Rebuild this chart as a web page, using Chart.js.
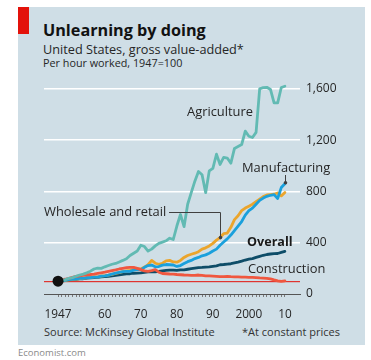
<!DOCTYPE html>
<html>
<head>
<meta charset="utf-8">
<script src="https://cdn.jsdelivr.net/npm/chart.js@4.4.1/dist/chart.umd.min.js"></script>
<style>
  html, body { margin: 0; padding: 0; background: #ffffff; }
  body { width: 371px; height: 360px; position: relative; overflow: hidden; font-family: "Open Sans", Roboto, sans-serif; }
  #panel { position: absolute; left: 18px; top: 7px; width: 347px; height: 338px; background: #cfdee6; }
  #flag { position: absolute; left: 18px; top: 7px; width: 11px; height: 27px; background: #e3120b; }
  .t { position: absolute; white-space: nowrap; line-height: 1; }
  #title { left: 43px; top: 22px; font-size: 16.2px; font-weight: 700; color: #121212; }
  #sub { left: 43px; top: 43px; font-size: 12.7px; color: #262626; }
  #unit { left: 43px; top: 58px; font-size: 10.8px; color: #262626; }
  #source { left: 44px; top: 326px; font-size: 11px; color: #333333; }
  #note { left: 242px; top: 326px; font-size: 11px; color: #333333; }
  #brand { left: 18px; top: 348px; font-size: 9.5px; color: #8a8a8a; }
  #wrap { position: absolute; left: 0; top: 0; width: 371px; height: 360px; }
</style>
</head>
<body>
<div id="panel"></div>
<div id="flag"></div>
<div class="t" id="title">Unlearning by doing</div>
<div class="t" id="sub">United States, gross value-added*</div>
<div class="t" id="unit">Per hour worked, 1947=100</div>
<div class="t" id="source">Source: McKinsey Global Institute</div>
<div class="t" id="note">*At constant prices</div>
<div class="t" id="brand">Economist.com</div>
<div id="wrap"><canvas id="c" width="371" height="360"></canvas></div>
<script>
// Years covered by the index
const years = [
  1947, 1948, 1949, 1950, 1951, 1952, 1953, 1954, 1955, 1956,
  1957, 1958, 1959, 1960, 1961, 1962, 1963, 1964, 1965, 1966,
  1967, 1968, 1969, 1970, 1971, 1972, 1973, 1974, 1975, 1976,
  1977, 1978, 1979, 1980, 1981, 1982, 1983, 1984, 1985, 1986,
  1987, 1988, 1989, 1990, 1991, 1992, 1993, 1994, 1995, 1996,
  1997, 1998, 1999, 2000, 2001, 2002, 2003, 2004, 2005, 2006,
  2007, 2008, 2009, 2010
];

// Gross value-added per hour worked, 1947=100
const agriculture = [
  100, 108, 112, 122, 128, 138, 148, 155, 165, 178,
  195, 202, 200, 212, 222, 232, 238, 250, 262, 275,
  300, 318, 335, 380, 370, 335, 350, 375, 395, 405,
  415, 435, 425, 530, 620, 525, 700, 790, 880, 955,
  930, 790, 960, 980, 1090, 1010, 1065, 1060, 1020, 1135,
  1150, 1165, 1270, 1230, 1220, 1260, 1600, 1610, 1612, 1595,
  1490, 1490, 1610, 1620
];
const manufacturing = [
  100, 104, 106, 112, 115, 117, 122, 122, 128, 128,
  132, 132, 140, 142, 147, 155, 162, 168, 174, 176,
  176, 186, 192, 190, 208, 222, 226, 212, 214, 225,
  230, 228, 226, 215, 222, 238, 252, 262, 276, 285,
  298, 305, 318, 335, 350, 380, 405, 430, 460, 495,
  530, 565, 615, 650, 670, 700, 730, 748, 762, 770,
  775, 745, 830, 860
];
const wholesaleRetail = [
  100, 103, 105, 110, 112, 116, 120, 122, 128, 130,
  133, 134, 140, 143, 147, 153, 160, 167, 174, 180,
  184, 192, 196, 195, 210, 228, 262, 240, 232, 240,
  258, 262, 250, 248, 262, 285, 300, 310, 318, 330,
  350, 360, 375, 395, 420, 440, 470, 475, 520, 580,
  610, 650, 670, 685, 700, 720, 740, 760, 772, 775,
  778, 788, 765, 792
];
const overall = [
  100, 103, 105, 110, 112, 115, 118, 119, 124, 125,
  127, 129, 133, 135, 138, 142, 146, 150, 154, 157,
  158, 162, 163, 164, 168, 172, 175, 172, 176, 181,
  184, 186, 186, 185, 188, 188, 193, 197, 201, 205,
  207, 210, 212, 216, 220, 228, 230, 233, 236, 242,
  248, 256, 265, 272, 276, 285, 294, 302, 308, 312,
  315, 316, 324, 332
];
const construction = [
  100, 110, 115, 122, 130, 137, 142, 146, 150, 152,
  155, 160, 165, 170, 176, 182, 188, 195, 200, 205,
  207, 208, 200, 190, 180, 176, 182, 190, 170, 160,
  158, 156, 155, 152, 150, 148, 147, 146, 146, 148,
  145, 142, 141, 140, 138, 136, 136, 137, 135, 134,
  133, 132, 131, 130, 129, 127, 125, 124, 122, 118,
  110, 103, 98, 102
];

// Axis ticks and labels
const baseIndex = 100;
const xTickYears = [1947, 1960, 1970, 1980, 1990, 2000, 2010];
const xTickLabels = ['1947', '60', '70', '80', '90', '2000', '10'];
const yTickValues = [0, 400, 800, 1200, 1600];
const yTickLabels = ['0', '400', '800', '1,200', '1,600'];

const FONT = '"Open Sans", Roboto, sans-serif';
const COLORS = {
  agriculture: '#62bab3',
  manufacturing: '#1aa0dc',
  wholesale: '#eba52c',
  overall: '#0e4d68',
  construction: '#f0573f',
  ref: '#e3120b',
  text: '#262626',
  leader: '#404040'
};

const toPoints = (vals) => years.map((y, i) => ({ x: y, y: vals[i] }));

const lineDs = (label, vals, color) => ({
  label,
  data: toPoints(vals),
  borderColor: color,
  backgroundColor: color,
  borderWidth: 2.8,
  pointRadius: 0,
  tension: 0,
  borderJoinStyle: 'round',
  borderCapStyle: 'round'
});

// Reference line at the base index, drawn under the series
const baseLine = {
  id: 'baseLine',
  beforeDatasetsDraw(chart) {
    const { ctx, chartArea, scales } = chart;
    const y = scales.y.getPixelForValue(baseIndex);
    ctx.save();
    ctx.strokeStyle = COLORS.ref;
    ctx.lineWidth = 1;
    ctx.beginPath();
    ctx.moveTo(chartArea.left, y + 0.5);
    ctx.lineTo(chartArea.right, y + 0.5);
    ctx.stroke();
    ctx.restore();
  }
};

// Series names and their leader lines
const seriesLabels = {
  id: 'seriesLabels',
  afterDatasetsDraw(chart) {
    const { ctx, scales } = chart;
    ctx.save();
    ctx.fillStyle = COLORS.text;
    ctx.textBaseline = 'middle';
    ctx.textAlign = 'left';
    ctx.font = '12.9px ' + FONT;
    ctx.fillText('Agriculture', 187, 112);
    ctx.fillText('Manufacturing', 242, 168);
    ctx.fillText('Wholesale and retail', 44, 212);
    ctx.fillText('Construction', 248, 269);
    ctx.font = 'bold 12.6px ' + FONT;
    ctx.fillStyle = '#1a1a1a';
    ctx.fillText('Overall', 247, 242);

    ctx.strokeStyle = COLORS.leader;
    ctx.fillStyle = COLORS.leader;
    ctx.lineWidth = 1;

    // Wholesale and retail leader to the 1992 point
    const wi = years.indexOf(1992);
    const wx = Math.round(scales.x.getPixelForValue(years[wi])) + 0.5;
    const wy = scales.y.getPixelForValue(wholesaleRetail[wi]);
    ctx.beginPath();
    ctx.moveTo(169, 212.5);
    ctx.lineTo(wx, 212.5);
    ctx.lineTo(wx, wy);
    ctx.stroke();
    ctx.beginPath();
    ctx.arc(wx, wy, 1.8, 0, Math.PI * 2);
    ctx.fill();

    // Manufacturing leader to the last point
    const mi = years.length - 1;
    const mx = Math.round(scales.x.getPixelForValue(years[mi])) + 0.5;
    const my = scales.y.getPixelForValue(manufacturing[mi]);
    ctx.beginPath();
    ctx.moveTo(mx, 175);
    ctx.lineTo(mx, my - 1);
    ctx.stroke();
    ctx.beginPath();
    ctx.arc(mx, my - 1, 1.8, 0, Math.PI * 2);
    ctx.fill();
    ctx.restore();
  }
};

new Chart(document.getElementById('c'), {
  type: 'line',
  data: {
    datasets: [
      {
        label: 'start',
        data: [{ x: years[0], y: baseIndex }],
        pointRadius: 5.5,
        pointBackgroundColor: '#111111',
        pointBorderWidth: 0,
        showLine: false
      },
      lineDs('Agriculture', agriculture, COLORS.agriculture),
      lineDs('Construction', construction, COLORS.construction),
      lineDs('Manufacturing', manufacturing, COLORS.manufacturing),
      lineDs('Wholesale and retail', wholesaleRetail, COLORS.wholesale),
      lineDs('Overall', overall, COLORS.overall)
    ]
  },
  options: {
    responsive: false,
    animation: false,
    events: [],
    layout: { padding: { top: 76, left: 44, right: 0, bottom: 0 } },
    plugins: {
      legend: { display: false },
      tooltip: { enabled: false },
      title: { display: false }
    },
    scales: {
      x: {
        type: 'linear',
        min: 1943.1,
        max: 2014.2,
        afterBuildTicks(scale) {
          scale.ticks = years.map(v => ({ value: v }));
        },
        afterFit(scale) { scale.height = 66; },
        grid: {
          display: true,
          drawOnChartArea: false,
          drawTicks: true,
          tickLength: 3,
          color: '#7a7a7a',
          lineWidth: 1
        },
        border: { display: true, color: '#555555', width: 1 },
        ticks: {
          autoSkip: false,
          maxRotation: 0,
          padding: 11,
          color: '#262626',
          font: { size: 11.8, family: FONT },
          callback(value) {
            const k = xTickYears.indexOf(value);
            return k >= 0 ? xTickLabels[k] : '';
          }
        }
      },
      y: {
        position: 'right',
        min: 0,
        max: 1700,
        afterBuildTicks(scale) {
          scale.ticks = yTickValues.map(v => ({ value: v }));
        },
        afterFit(scale) { scale.width = 71; },
        grid: {
          drawTicks: false,
          color: (c) => (c.tick && c.tick.value === 0 ? 'rgba(0,0,0,0)' : '#ffffff'),
          lineWidth: 1.5
        },
        border: { display: false },
        ticks: {
          padding: 6,
          color: '#262626',
          font: { size: 12, family: FONT },
          callback(value) {
            const k = yTickValues.indexOf(value);
            return k >= 0 ? yTickLabels[k] : '';
          }
        }
      }
    }
  },
  plugins: [baseLine, seriesLabels]
});
</script>
</body>
</html>
